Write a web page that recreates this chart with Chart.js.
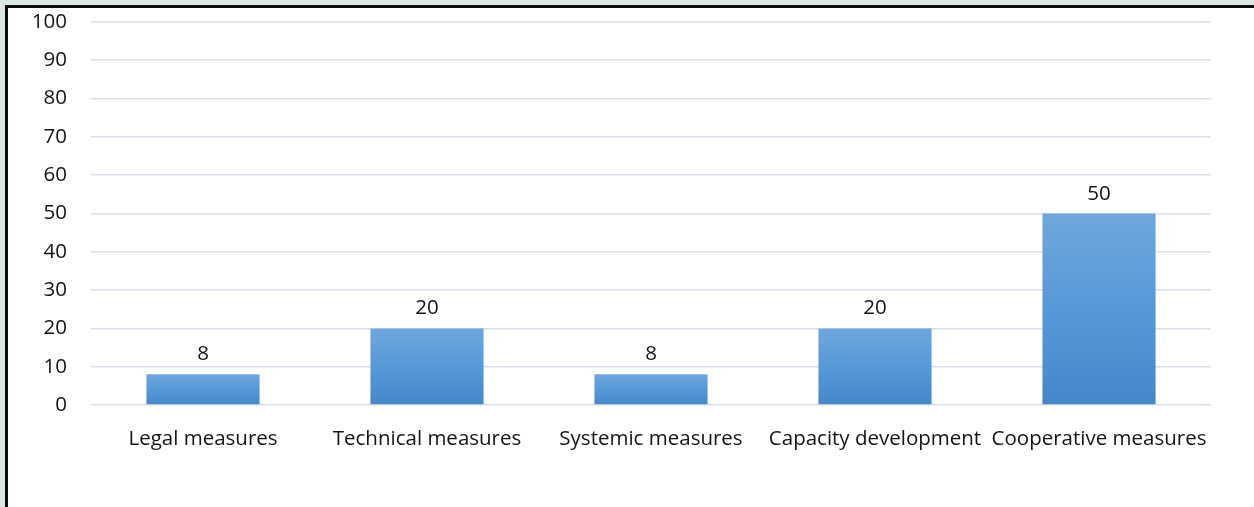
<!DOCTYPE html>
<html>
<head>
<meta charset="utf-8">
<script src="https://cdn.jsdelivr.net/npm/chart.js@4.4.1/dist/chart.umd.min.js"></script>
<style>
  html, body { margin: 0; padding: 0; }
  body {
    width: 1254px; height: 507px; overflow: hidden;
    background: #dbe7e4;
    position: relative;
  }
  #frame {
    position: absolute; left: 5px; top: 5px;
    width: 1300px; height: 560px;
    border: 3px solid #0c0c0c;
    background: #ffffff;
  }
  #wrap { position: absolute; left: 0; top: 0; width: 1254px; height: 507px; }
</style>
</head>
<body>
<div id="frame"></div>
<div id="wrap"><canvas id="chart" width="1254" height="507"></canvas></div>
<script>
const categories = ['Legal measures', 'Technical measures', 'Systemic measures', 'Capacity development', 'Cooperative measures'];
const values = [8, 20, 8, 20, 50];
const yTicks = [0, 10, 20, 30, 40, 50, 60, 70, 80, 90, 100];

const FONT = "'Open Sans', 'Liberation Sans', sans-serif";
const FONT_SIZE = 20.5;

// vertical gradient on each bar: lighter at the top, deeper at the base
function barGradient(ctx) {
  const chart = ctx.chart;
  const area = chart.chartArea;
  if (!area || ctx.type !== 'data') return '#5b9bd5';
  const y = chart.scales.y;
  const top = y.getPixelForValue(ctx.parsed.y);
  const base = y.getPixelForValue(0);
  const g = chart.ctx.createLinearGradient(0, top, 0, base);
  g.addColorStop(0, '#6fa7dd');
  g.addColorStop(0.5, '#5699d8');
  g.addColorStop(1, '#4586c8');
  return g;
}

// value printed above each bar
const valueLabels = {
  id: 'valueLabels',
  afterDatasetsDraw(chart) {
    const c = chart.ctx;
    const meta = chart.getDatasetMeta(0);
    c.save();
    c.font = FONT_SIZE + 'px ' + FONT;
    c.fillStyle = '#141414';
    c.textAlign = 'center';
    c.textBaseline = 'alphabetic';
    meta.data.forEach((bar, i) => {
      c.fillText(String(chart.data.datasets[0].data[i]), bar.x, bar.y - 14);
    });
    c.restore();
  }
};

new Chart(document.getElementById('chart'), {
  type: 'bar',
  data: {
    labels: categories,
    datasets: [{
      data: values,
      backgroundColor: barGradient,
      borderWidth: 0,
      categoryPercentage: 1,
      barPercentage: 0.505
    }]
  },
  options: {
    responsive: false,
    animation: false,
    devicePixelRatio: 1,
    layout: { padding: { left: 0, right: 43, top: 22, bottom: 0 } },
    plugins: {
      legend: { display: false },
      tooltip: { enabled: false }
    },
    scales: {
      x: {
        grid: { display: false, drawTicks: false },
        border: { display: false },
        ticks: {
          color: '#141414',
          font: { family: FONT, size: FONT_SIZE },
          padding: 22,
          maxRotation: 0,
          autoSkip: false
        },
        afterFit(scale) {
          scale.height = 102;
          scale.paddingLeft = 0;
          scale.paddingRight = 0;
        }
      },
      y: {
        min: 0,
        max: 100,
        afterBuildTicks(scale) { scale.ticks = yTicks.map(v => ({ value: v })); },
        grid: { color: '#dcdfea', lineWidth: 1.6, drawTicks: false },
        border: { display: false },
        ticks: {
          color: '#141414',
          font: { family: FONT, size: FONT_SIZE },
          padding: 24
        },
        afterFit(scale) {
          scale.width = 91;
          scale.paddingTop = 0;
          scale.paddingBottom = 0;
        }
      }
    }
  },
  plugins: [valueLabels]
});
</script>
</body>
</html>
